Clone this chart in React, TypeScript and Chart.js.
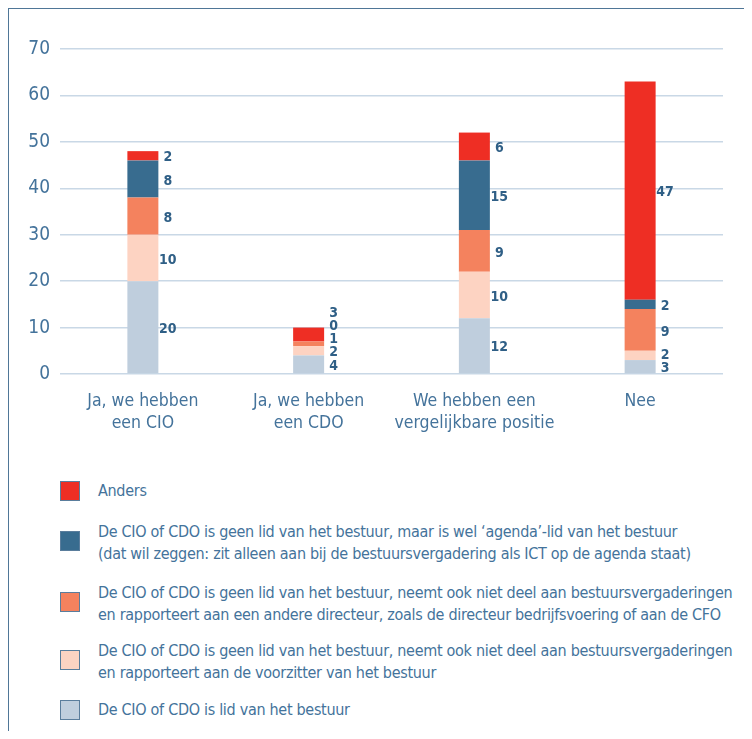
import React, { useEffect, useRef } from "react";
import { Chart, registerables } from "chart.js";

Chart.register(...registerables);

// ---- data ----
const categories: string[][] = [
  ["Ja, we hebben", "een CIO"],
  ["Ja, we hebben", "een CDO"],
  ["We hebben een", "vergelijkbare positie"],
  ["Nee"],
];

// series (bottom to top of the stack)
const lidBestuur = [20, 4, 12, 3];
const voorzitter = [10, 2, 10, 2];
const andereDirecteur = [8, 1, 9, 9];
const agendaLid = [8, 0, 15, 2];
const anders = [2, 3, 6, 47];

const yTicks = [0, 10, 20, 30, 40, 50, 60, 70];

const nameLid = ["De CIO of CDO is lid van het bestuur"];
const nameVoorzitter = [
  "De CIO of CDO is geen lid van het bestuur, neemt ook niet deel aan bestuursvergaderingen",
  "en rapporteert aan de voorzitter van het bestuur",
];
const nameAndere = [
  "De CIO of CDO is geen lid van het bestuur, neemt ook niet deel aan bestuursvergaderingen",
  "en rapporteert aan een andere directeur, zoals de directeur bedrijfsvoering of aan de CFO",
];
const nameAgenda = [
  "De CIO of CDO is geen lid van het bestuur, maar is wel \u2018agenda\u2019-lid van het bestuur",
  "(dat wil zeggen: zit alleen aan bij de bestuursvergadering als ICT op de agenda staat)",
];
const nameAnders = ["Anders"];

const COLORS = {
  lid: "#bfcedd",
  voorzitter: "#fdd3c2",
  andere: "#f4825e",
  agenda: "#386c8f",
  anders: "#ee2e24",
};

const FONT = "'DejaVu Sans Condensed', 'Liberation Sans Narrow', 'Roboto', sans-serif";
const TEXT = "#44739b";
const LABEL = "#2f5f86";

const series = [
  { lines: nameLid, data: lidBestuur, color: COLORS.lid },
  { lines: nameVoorzitter, data: voorzitter, color: COLORS.voorzitter },
  { lines: nameAndere, data: andereDirecteur, color: COLORS.andere },
  { lines: nameAgenda, data: agendaLid, color: COLORS.agenda },
  { lines: nameAnders, data: anders, color: COLORS.anders },
];

const valueLabels = {
  id: "valueLabels",
  afterDatasetsDraw(chart: any) {
    const ctx = chart.ctx;
    const n = chart.data.labels.length;
    ctx.save();
    ctx.font = `bold 14px ${FONT}`;
    ctx.fillStyle = LABEL;
    ctx.textAlign = "center";
    ctx.textBaseline = "middle";
    for (let i = 0; i < n; i++) {
      let prev = Infinity;
      chart.data.datasets.forEach((ds: any, d: number) => {
        const el = chart.getDatasetMeta(d).data[i];
        const v = ds.data[i];
        const mid = (el.y + el.base) / 2 + 2;
        const y = Math.min(mid, prev - 13);
        prev = y;
        ctx.fillText(String(v), el.x + el.width / 2 + 9.5, y);
      });
    }
    ctx.restore();
  },
};

function ChartCanvas() {
  const ref = useRef<HTMLCanvasElement | null>(null);
  useEffect(() => {
    if (!ref.current) return;
    const chart = new Chart(ref.current, {
      type: "bar",
      data: {
        labels: categories,
        datasets: series.map((s) => ({
          label: s.lines.join(" "),
          data: s.data,
          backgroundColor: s.color,
          borderWidth: 0,
          categoryPercentage: 1,
          barPercentage: 0.187,
        })),
      },
      options: {
        animation: false,
        responsive: true,
        maintainAspectRatio: false,
        layout: { padding: { top: 40, right: 25, left: 0, bottom: 0 } },
        plugins: { legend: { display: false }, tooltip: { enabled: false } },
        scales: {
          x: {
            stacked: true,
            grid: { display: false },
            border: { display: false },
            ticks: {
              color: TEXT,
              font: { family: FONT, size: 17.5, lineHeight: 1.24 },
              padding: 9,
              maxRotation: 0,
              autoSkip: false,
            },
            afterFit: (s: any) => {
              s.height = 80;
            },
          },
          y: {
            stacked: true,
            min: yTicks[0],
            max: yTicks[yTicks.length - 1],
            grid: { color: "#c9d8e6", lineWidth: 1.5, drawTicks: false },
            border: { display: false },
            afterBuildTicks: (s: any) => {
              s.ticks = yTicks.map((v) => ({ value: v }));
            },
            ticks: {
              color: TEXT,
              font: { family: FONT, size: 19 },
              padding: 10,
            },
            afterFit: (s: any) => {
              s.width = 51;
            },
          },
        },
      },
      plugins: [valueLabels],
    });
    return () => chart.destroy();
  }, []);
  return (
    <div style={{ position: "relative", width: 739, height: 445 }}>
      <canvas ref={ref} />
    </div>
  );
}

function Legend() {
  const items = [...series].reverse();
  const tops = [470.5, 511.6, 572.6, 630.6, 689.6];
  return (
    <>
      {items.map((s, i) => (
        <div
          key={i}
          style={{
            position: "absolute",
            left: 51,
            top: tops[i],
            display: "flex",
            alignItems: "center",
          }}
        >
          <div
            style={{
              width: 18,
              height: 18,
              background: s.color,
              border: "1px solid #5a7d9c",
              marginRight: 18,
              marginTop: s.lines.length > 1 ? -5 : 0,
              flex: "0 0 auto",
            }}
          />
          <div
            style={{
              fontFamily: FONT,
              fontSize: 16,
              letterSpacing: "-0.3px",
              lineHeight: "22.7px",
              color: TEXT,
              whiteSpace: "nowrap",
            }}
          >
            {s.lines.map((l, j) => (
              <div key={j}>{l}</div>
            ))}
          </div>
        </div>
      ))}
    </>
  );
}

export default function App() {
  return (
    <div
      style={{
        position: "relative",
        width: 741,
        height: 723,
        boxSizing: "border-box",
        borderTop: "1px solid #4f7697",
        borderLeft: "1px solid #4f7697",
        borderRight: "1px solid #4f7697",
        background: "#fff",
        overflow: "hidden",
      }}
    >
      <ChartCanvas />
      <Legend />
    </div>
  );
}
